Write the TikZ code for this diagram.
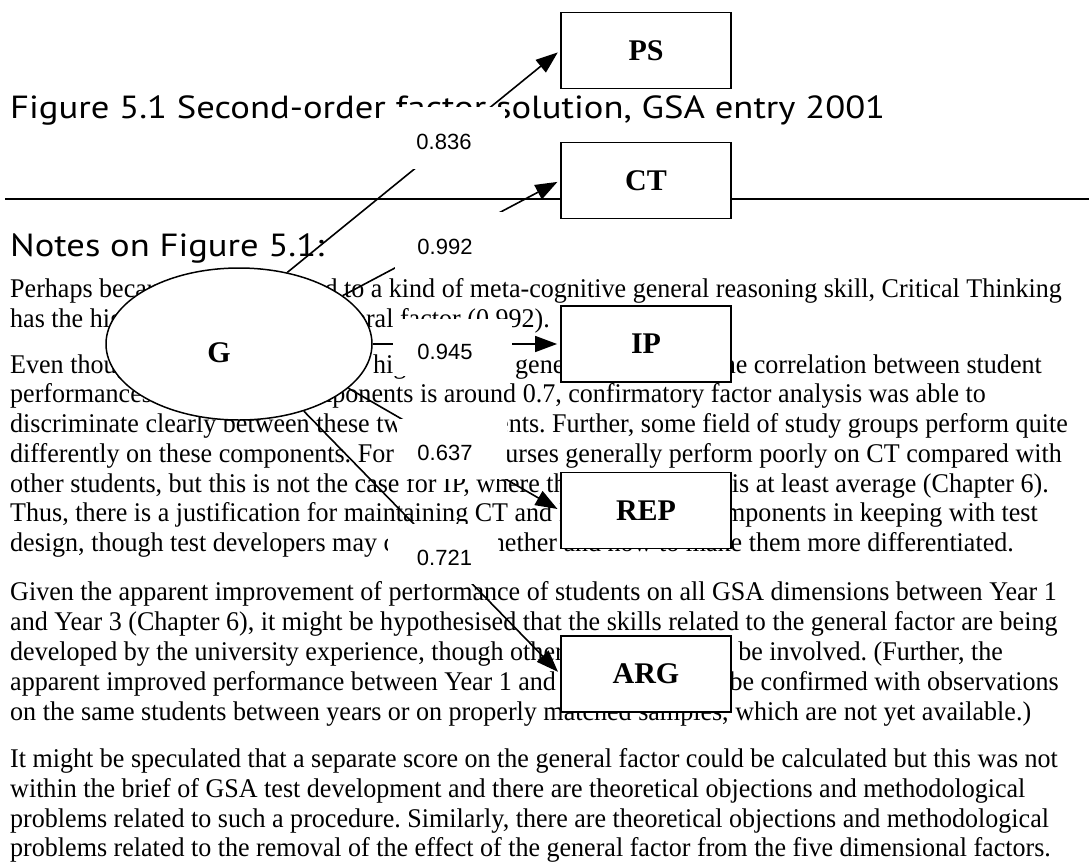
\documentclass[tikz,border=0pt]{standalone}
\usepackage{fontspec}
\setmainfont[FakeStretch=0.965]{Liberation Serif}
\newfontfamily\boxfont{Liberation Serif}
\newfontfamily\headfont{PT Sans}
\newfontfamily\numfont{Liberation Sans}
\usetikzlibrary{arrows.meta,shapes.geometric}
\frenchspacing
\tikzset{
 body/.style={anchor=base west, inner sep=0pt, font=\fontsize{27}{32}\selectfont},
 bodyr/.style={anchor=base east, inner sep=0pt, font=\fontsize{27}{32}\selectfont},
 head/.style={anchor=base west, inner sep=0pt, font=\headfont\fontsize{32}{38}\selectfont},
 factor/.style={draw, line width=1.8pt, fill=white, minimum width=170pt, minimum height=76pt, inner sep=0pt, font=\boxfont\bfseries\fontsize{30}{36}\selectfont},
 latent/.style={ellipse, draw, line width=1.5pt, fill=white, minimum width=266pt, minimum height=152pt, inner sep=0pt},
 mask/.style={fill=white, inner sep=0pt},
 num/.style={font=\numfont\fontsize{22}{26}\selectfont, inner sep=0pt},
 link/.style={line width=1.6pt, -{Triangle[length=22pt,width=16pt]}, shorten >=3pt},
 rule/.style={line width=2pt},
}
\begin{document}
\begin{tikzpicture}[x=1pt,y=-1pt]
\useasboundingbox[fill=white] (0,0) rectangle (1089,862);
% headings
\node[head] (title) at (10,118) {\resizebox{875pt}{\height}{Figure 5.1 Second-order factor solution, GSA entry 2001}};
\node[head] (notes) at (10,256) {\resizebox{314pt}{\height}{Notes on Figure 5.1:}};
\coordinate (rl) at (5,199);
\coordinate (rr) at (1089,199);
\draw[rule] (rl) -- (rr);
% body text
\node[body] (a1) at (10,297) {Perhaps becau};
\node[bodyr] (b1) at (1062,297) {related to a kind of meta-cognitive general reasoning skill, Critical Thinking};
\node[body] (a2) at (10,327) {has the hig};
\node[bodyr] (b2) at (550,327) {general factor (0.992).};
\node[body] (a3) at (10,373) {Even though};
\node[body] (c3) at (373,373) {high};
\node[body] (d3) at (515,373) {general};
\node[bodyr] (b3) at (1042,373) {the correlation between student};
\node[body] (a4) at (10,402) {performances on};
\node[bodyr] (b4) at (986,402) {components is around 0.7, confirmatory factor analysis was able to};
\node[body] (a5) at (10,432) {discriminate clearly between these two};
\node[bodyr] (b5) at (1068,432) {components. Further, some field of study groups perform quite};
\node[body] (a6) at (10,462) {differently on these components. For};
\node[bodyr] (b6) at (1062,462) {courses generally perform poorly on CT compared with};
\node[body] (a7) at (10,492) {other students, but this is not the case for IP, where their};
\node[bodyr] (b7) at (1049,492) {performance is at least average (Chapter 6).};
\node[body] (a8) at (10,521) {Thus, there is a justification for maintaining CT and IP};
\node[bodyr] (b8) at (1038,521) {components in keeping with test};
\node[body] (a9) at (10,551) {design, though test developers may con};
\node[bodyr] (b9) at (1014,551) {whether and how to make them more differentiated.};
\node[body] (a10) at (10,600) {Given the apparent improvement of performance of students on all GSA dimensions between Year 1};
\node[body] (a11) at (10,630) {and Year 3 (Chapter 6), it might be hypothesised that the skills related to the general factor are being};
\node[body] (a12) at (10,660) {developed by the university experience, though other};
\node[bodyr] (b12) at (1003,660) {may be involved. (Further, the};
\node[body] (a13) at (10,690) {apparent improved performance between Year 1 and};
\node[bodyr] (b13) at (1059,690) {to be confirmed with observations};
\node[body] (a14) at (10,720) {on the same students between years or on properly matched samples, which are not yet available.)};
\node[body] (a15) at (10,767) {It might be speculated that a separate score on the general factor could be calculated but this was not};
\node[body] (a16) at (10,797) {within the brief of GSA test development and there are theoretical objections and methodological};
\node[body] (a17) at (10,827) {problems related to such a procedure. Similarly, there are theoretical objections and methodological};
\node[body] (a18) at (10,856) {problems related to the removal of the effect of the general factor from the five dimensional factors.};
% diagram
\node[latent] (G) at (239,344) {};
\node[font=\boxfont\bfseries\fontsize{30}{36}\selectfont, inner sep=0pt] (Gt) at (219,353) {G};
\node[factor] (PS) at (646,50.5) {PS};
\node[factor] (CT) at (646,180.5) {CT};
\node[factor] (IP) at (646,344) {IP};
\node[factor] (REP) at (646,510.5) {REP};
\node[factor] (ARG) at (646,674) {ARG};
\draw[link] (G.56) -- (PS.west);
\draw[link] (G.25) -- (CT.west);
\draw[link] (G.east) -- (IP.west);
\draw[link] (G.-22) -- (REP.west);
\draw[link] (G.-46) -- (ARG.west);
% loading labels on white panels
\node[mask, minimum width=108pt, minimum height=62pt] (m836) at (451,138) {};
\node[num] (l836) at (444,142) {0.836};
\node[mask, minimum width=110pt, minimum height=62pt] (m992) at (450,243) {};
\node[num] (l992) at (445,247) {0.992};
\node[mask, minimum width=119pt, minimum height=57pt] (m945) at (452.5,347.5) {};
\node[num] (l945) at (445,352) {0.945};
\node[mask, minimum width=110pt, minimum height=60pt] (m637) at (452,449) {};
\node[num] (l637) at (445,453) {0.637};
\node[mask, minimum width=110pt, minimum height=60pt] (m721) at (443,554) {};
\node[num] (l721) at (444.5,558) {0.721};
\end{tikzpicture}
\end{document}
